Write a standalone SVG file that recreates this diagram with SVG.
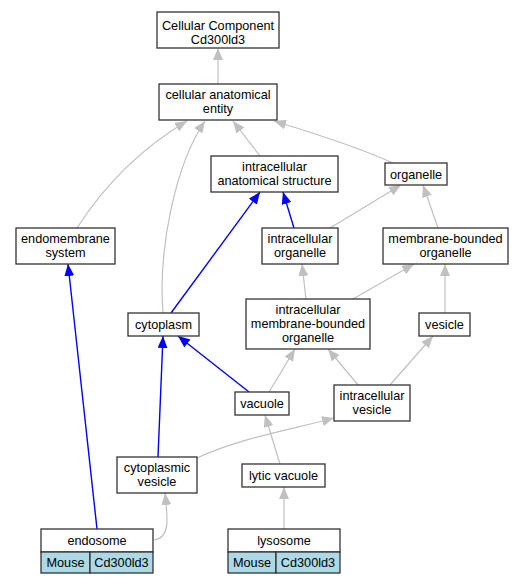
<svg xmlns="http://www.w3.org/2000/svg" width="523" height="584" viewBox="0 0 523 584">
<style>
.n{fill:#fff;stroke:#333;stroke-width:1.3}
.b{fill:#add8e6;stroke:#333;stroke-width:1.3}
text{font-family:"Liberation Sans",Arial,sans-serif;font-size:12.7px;fill:#000;text-anchor:middle}
.g{fill:none;stroke:#c0c0c0;stroke-width:1.2}
.u{fill:none;stroke:#0000ff;stroke-width:1.4}
</style>
<defs>
<marker id="ag" viewBox="0 0 12 10" refX="12" refY="5" markerWidth="12" markerHeight="10" markerUnits="userSpaceOnUse" orient="auto"><path d="M0,0L12,5L0,10z" fill="#c0c0c0"/></marker>
<marker id="ab" viewBox="0 0 12 10" refX="12" refY="5" markerWidth="12" markerHeight="10" markerUnits="userSpaceOnUse" orient="auto"><path d="M0,0L12,5L0,10z" fill="#0000ff"/></marker>
</defs>
<rect width="523" height="584" fill="#fff"/>
<g id="edges">
<path class="g" marker-end="url(#ag)" d="M218,84L218,48"/>
<path class="g" marker-end="url(#ag)" d="M77,228C95,200 130,155 187,121"/>
<path class="g" marker-end="url(#ag)" d="M163,313C158,250 175,165 205,121"/>
<path class="g" marker-end="url(#ag)" d="M260,156L233,121"/>
<path class="g" marker-end="url(#ag)" d="M393,163C360,148 320,135 274,121"/>
<path class="u" marker-end="url(#ab)" d="M294,228L283,192"/>
<path class="u" marker-end="url(#ab)" d="M171,313L260,192"/>
<path class="g" marker-end="url(#ag)" d="M330,228L401,185"/>
<path class="g" marker-end="url(#ag)" d="M438,228L423,185"/>
<path class="g" marker-end="url(#ag)" d="M306,299L302,264"/>
<path class="g" marker-end="url(#ag)" d="M353,299L414,264"/>
<path class="g" marker-end="url(#ag)" d="M445,313L445,264"/>
<path class="u" marker-end="url(#ab)" d="M249,392L178,336"/>
<path class="g" marker-end="url(#ag)" d="M269,392L295,349"/>
<path class="g" marker-end="url(#ag)" d="M358,385L328,349"/>
<path class="g" marker-end="url(#ag)" d="M390,385L433,336"/>
<path class="u" marker-end="url(#ab)" d="M158,457L163,336"/>
<path class="u" marker-end="url(#ab)" d="M97,529L68,264"/>
<path class="g" marker-end="url(#ag)" d="M197,458C240,438 290,430 334,418"/>
<path class="g" marker-end="url(#ag)" d="M280,464L265,415"/>
<path class="g" marker-end="url(#ag)" d="M284,529L284,487"/>
<path class="g" marker-end="url(#ag)" d="M154,540C170,538 168,520 165,493"/>
</g>
<g id="cc"><rect class="n" x="157" y="12" width="122" height="36"/><text x="218" y="29.5">Cellular Component</text><text x="218" y="43.5">Cd300ld3</text></g>
<g id="cae"><rect class="n" x="159" y="84" width="118" height="36"/><text x="218" y="99">cellular anatomical</text><text x="218" y="113">entity</text></g>
<g id="ias"><rect class="n" x="211" y="156" width="127" height="36"/><text x="274.5" y="171">intracellular</text><text x="274.5" y="185">anatomical structure</text></g>
<g id="org"><rect class="n" x="385" y="163" width="62" height="22"/><text x="416" y="178.5">organelle</text></g>
<g id="ems"><rect class="n" x="16" y="228" width="99" height="36"/><text x="65.5" y="243">endomembrane</text><text x="65.5" y="257">system</text></g>
<g id="io"><rect class="n" x="262" y="228" width="76" height="36"/><text x="300" y="243">intracellular</text><text x="300" y="257">organelle</text></g>
<g id="mbo"><rect class="n" x="383" y="228" width="125" height="36"/><text x="445.5" y="243">membrane-bounded</text><text x="445.5" y="257">organelle</text></g>
<g id="cyt"><rect class="n" x="128" y="313" width="71" height="23"/><text x="163.5" y="329">cytoplasm</text></g>
<g id="imbo"><rect class="n" x="246" y="299" width="124" height="50"/><text x="308" y="314">intracellular</text><text x="308" y="328">membrane-bounded</text><text x="308" y="342">organelle</text></g>
<g id="ves"><rect class="n" x="419" y="313" width="51" height="23"/><text x="444.5" y="329">vesicle</text></g>
<g id="vac"><rect class="n" x="235" y="392" width="54" height="23"/><text x="262" y="408">vacuole</text></g>
<g id="iv"><rect class="n" x="334" y="385" width="76" height="36"/><text x="372" y="400">intracellular</text><text x="372" y="414">vesicle</text></g>
<g id="cv"><rect class="n" x="117" y="457" width="80" height="36"/><text x="157" y="472">cytoplasmic</text><text x="157" y="486">vesicle</text></g>
<g id="lv"><rect class="n" x="242" y="464" width="83" height="23"/><text x="283.5" y="480">lytic vacuole</text></g>
<g id="endo"><rect class="n" x="41" y="529" width="112" height="23"/><rect class="b" x="41" y="552" width="49" height="21"/><rect class="b" x="90" y="552" width="63" height="21"/><text x="97" y="545">endosome</text><text x="65.5" y="567">Mouse</text><text x="121.5" y="567">Cd300ld3</text></g>
<g id="lyso"><rect class="n" x="228" y="529" width="112" height="23"/><rect class="b" x="228" y="552" width="48" height="21"/><rect class="b" x="276" y="552" width="64" height="21"/><text x="284" y="545">lysosome</text><text x="252" y="567">Mouse</text><text x="308" y="567">Cd300ld3</text></g>
</svg>
